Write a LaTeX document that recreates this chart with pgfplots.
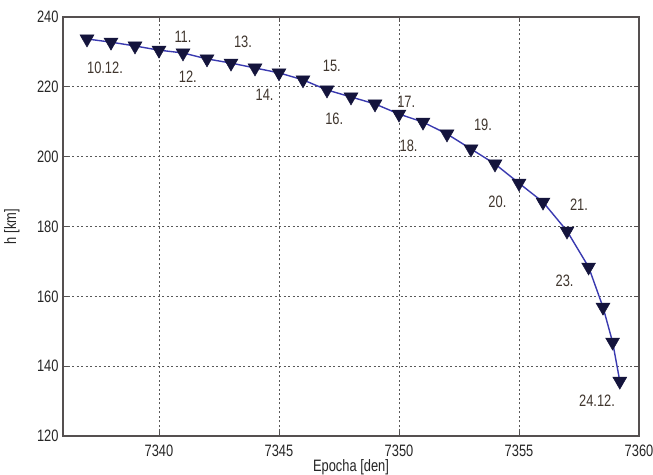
\documentclass[border=0pt]{standalone}
\usepackage{pgfplots}
\pgfplotsset{compat=1.18}
\usepackage{fontspec}
\setmainfont[FakeStretch=0.78]{Liberation Sans}
\definecolor{framec}{HTML}{555050}
\definecolor{linec}{HTML}{3A3AB0}
\definecolor{markc}{HTML}{14143C}
\definecolor{labc}{HTML}{40362E}
\begin{document}
\begin{tikzpicture}
\useasboundingbox (0,0) rectangle (653bp,475bp);
\fill[white] (0,0) rectangle (653bp,475bp);
\begin{axis}[
  at={(63bp,39bp)}, anchor=south west,
  scale only axis, width=576bp, height=419bp,
  xmin=7336, xmax=7360, ymin=120, ymax=240,
  xtick={7340,7345,7350,7355,7360},
  ytick={120,140,160,180,200,220,240},
  /pgf/number format/assume math mode=true,
  /pgf/number format/1000 sep={},
  tick align=inside, tick style={framec, line width=0.8bp},
  major tick length=5bp,
  axis line style={framec, line width=1.2bp},
  grid=major,
  major grid style={black!65, line width=1bp, dash pattern=on 2bp off 2.5bp},
  ticklabel style={font=\fontsize{16.5bp}{18bp}\selectfont, text=black!85},
  xticklabel style={yshift=-5bp},
  yticklabel style={xshift=-1bp},
  xlabel={Epocha [den]}, ylabel={h [km]},
  label style={font=\fontsize{16.5bp}{18bp}\selectfont, text=black!85},
  xlabel style={at={(0.5,0)}, anchor=north, yshift=-20bp},
  ylabel style={at={(0,0.5)}, anchor=south, yshift=40bp},
  clip=false,
]
\addplot[linec, line width=1.4bp, mark=triangle*, mark size=8bp,
  mark options={rotate=180, fill=markc, draw=markc, line width=0.5bp}]
coordinates {
(7337,233.7) (7338,232.8) (7339,231.7) (7340,230.5) (7341,229.7)
(7342,228.0) (7343,226.8) (7344,225.4) (7345,224.0) (7346,222.0)
(7347,219.1) (7348,217.1) (7349,215.1) (7350,212.2) (7351,209.9)
(7352,206.5) (7353,202.2) (7354,197.9) (7355,192.4) (7356,187.0)
(7357,178.7) (7357.9,168.4) (7358.5,156.9) (7358.9,146.9) (7359.2,135.7)
};
\begin{scope}[every node/.style={font=\fontsize{16.5bp}{18bp}\selectfont, text=labc}]
\node at (axis cs:7337.75,225.4) {10.12.};
\node at (axis cs:7341.0,234.3) {11.};
\node at (axis cs:7341.2,222.8) {12.};
\node at (axis cs:7343.5,232.8) {13.};
\node at (axis cs:7344.4,217.7) {14.};
\node at (axis cs:7347.2,226.0) {15.};
\node at (axis cs:7347.3,210.8) {16.};
\node at (axis cs:7350.3,215.6) {17.};
\node at (axis cs:7350.4,203.0) {18.};
\node at (axis cs:7353.5,209.1) {19.};
\node at (axis cs:7354.1,187.0) {20.};
\node at (axis cs:7357.5,186.1) {21.};
\node at (axis cs:7356.9,164.4) {23.};
\node at (axis cs:7358.25,130.0) {24.12.};
\end{scope}
\end{axis}
\end{tikzpicture}
\end{document}
